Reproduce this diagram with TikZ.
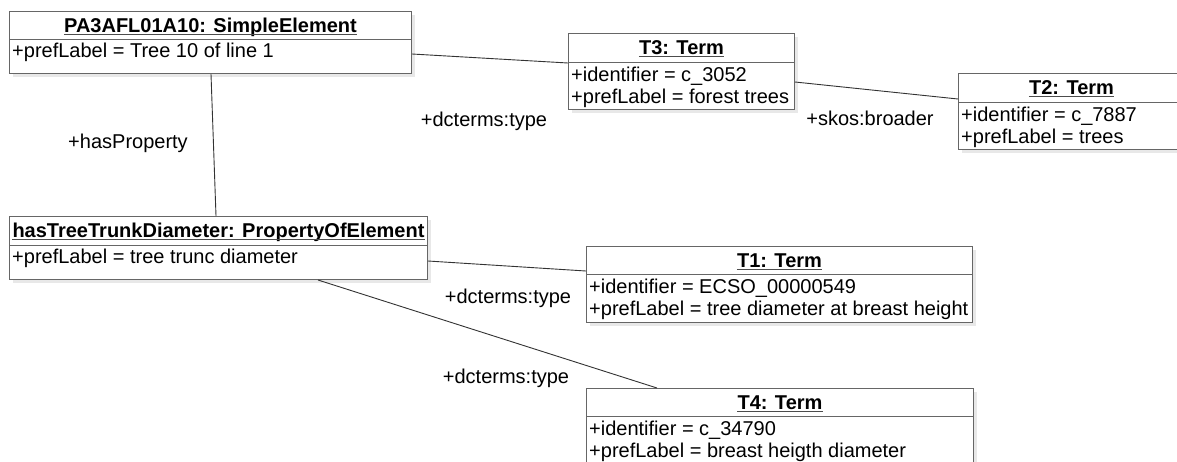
\documentclass[tikz,border=0pt]{standalone}
\usepackage{fontspec}
\setmainfont{Liberation Sans}
\usetikzlibrary{calc,shadows}
\begin{document}
\begin{tikzpicture}[x=1pt,y=-1pt,
  font=\fontsize{20}{24}\selectfont,
  umlbox/.style={draw=black!60, line width=1pt, fill=white, inner sep=0pt, anchor=north west,
    drop shadow={shadow xshift=3pt, shadow yshift=-3pt, fill=black!9, opacity=1}},
  divider/.style={draw=black!60, line width=1pt},
  hdr/.style={font=\fontsize{20}{24}\selectfont\bfseries, inner sep=0pt, anchor=base},
  ul/.style={draw=black!70, line width=0.9pt},
  attr/.style={inner sep=0pt, anchor=base west},
  assoc/.style={draw=black!80, line width=0.9pt},
  lbl/.style={inner sep=0pt, anchor=center}
]
\fill[white] (0,0) rectangle (1177,461);
\useasboundingbox (0,0) rectangle (1177,461);

% PA3AFL01A10
\node[umlbox, minimum width=402pt, minimum height=62pt] (pa) at (9,11) {};
\draw[divider] ($(pa.north west)+(0,28)$) -- ($(pa.north east)+(0,28)$);
\node[hdr] (pah) at ($(pa.north)+(0,21)$) {PA3AFL01A10: SimpleElement};
\draw[ul] ([yshift=-2pt]pah.base west) -- ([yshift=-2pt]pah.base east);
\node[attr] (pa1) at ($(pa.north west)+(3,46)$) {+prefLabel = Tree 10 of line 1};

% T3
\node[umlbox, minimum width=226pt, minimum height=76pt] (t3) at (568,33) {};
\draw[divider] ($(t3.north west)+(0,29)$) -- ($(t3.north east)+(0,29)$);
\node[hdr] (t3h) at ($(t3.north)+(0,21)$) {T3: Term};
\draw[ul] ([yshift=-2pt]t3h.base west) -- ([yshift=-2pt]t3h.base east);
\node[attr] (t3a) at ($(t3.north west)+(3,48)$) {+identifier = c\_3052};
\node[attr] (t3b) at ($(t3.north west)+(3,70)$) {+prefLabel = forest trees};

% T2
\node[umlbox, minimum width=226pt, minimum height=76pt] (t2) at (958,73) {};
\draw[divider] ($(t2.north west)+(0,29)$) -- ($(t2.north east)+(0,29)$);
\node[hdr] (t2h) at ($(t2.north)+(0,21)$) {T2: Term};
\draw[ul] ([yshift=-2pt]t2h.base west) -- ([yshift=-2pt]t2h.base east);
\node[attr] (t2a) at ($(t2.north west)+(3,48)$) {+identifier = c\_7887};
\node[attr] (t2b) at ($(t2.north west)+(3,70)$) {+prefLabel = trees};

% hasTreeTrunkDiameter
\node[umlbox, minimum width=418pt, minimum height=63pt] (ht) at (9,216) {};
\draw[divider] ($(ht.north west)+(0,29)$) -- ($(ht.north east)+(0,29)$);
\node[hdr] (hth) at ($(ht.north)+(0,21)$) {hasTreeTrunkDiameter: PropertyOfElement};
\draw[ul] ([yshift=-2pt]hth.base west) -- ([yshift=-2pt]hth.base east);
\node[attr] (ht1) at ($(ht.north west)+(3,47)$) {+prefLabel = tree trunc diameter};

% T1
\node[umlbox, minimum width=386pt, minimum height=76pt] (t1) at (586,246) {};
\draw[divider] ($(t1.north west)+(0,28)$) -- ($(t1.north east)+(0,28)$);
\node[hdr] (t1h) at ($(t1.north)+(0,21)$) {T1: Term};
\draw[ul] ([yshift=-2pt]t1h.base west) -- ([yshift=-2pt]t1h.base east);
\node[attr] (t1a) at ($(t1.north west)+(3,47)$) {+identifier = ECSO\_00000549};
\node[attr] (t1b) at ($(t1.north west)+(3,69)$) {+prefLabel = tree diameter at breast height};

% T4
\node[umlbox, minimum width=387pt, minimum height=76pt] (t4) at (586,388) {};
\draw[divider] ($(t4.north west)+(0,28)$) -- ($(t4.north east)+(0,28)$);
\node[hdr] (t4h) at ($(t4.north)+(0,21)$) {T4: Term};
\draw[ul] ([yshift=-2pt]t4h.base west) -- ([yshift=-2pt]t4h.base east);
\node[attr] (t4a) at ($(t4.north west)+(3,47)$) {+identifier = c\_34790};
\node[attr] (t4b) at ($(t4.north west)+(3,69)$) {+prefLabel = breast heigth diameter};

% connectors
\draw[assoc] ($(pa.north east)+(0,43)$) -- ($(t3.north west)+(0,30)$);
\draw[assoc] ($(t3.north east)+(0,49)$) -- ($(t2.north west)+(0,26)$);
\draw[assoc] ($(pa.south west)+(202,0)$) -- ($(ht.north west)+(207,0)$);
\draw[assoc] ($(ht.north east)+(0,45)$) -- ($(t1.north west)+(0,25)$);
\draw[assoc] ($(ht.south west)+(309,0)$) -- ($(t4.north west)+(71,0)$);

% labels
\node[lbl] (l1) at (484,121) {+dcterms:type};
\node[lbl] (l2) at (870,118) {+skos:broader};
\node[lbl] (l3) at (128,143) {+hasProperty};
\node[lbl] (l4) at (508,298) {+dcterms:type};
\node[lbl] (l5) at (506,378) {+dcterms:type};
\end{tikzpicture}
\end{document}
